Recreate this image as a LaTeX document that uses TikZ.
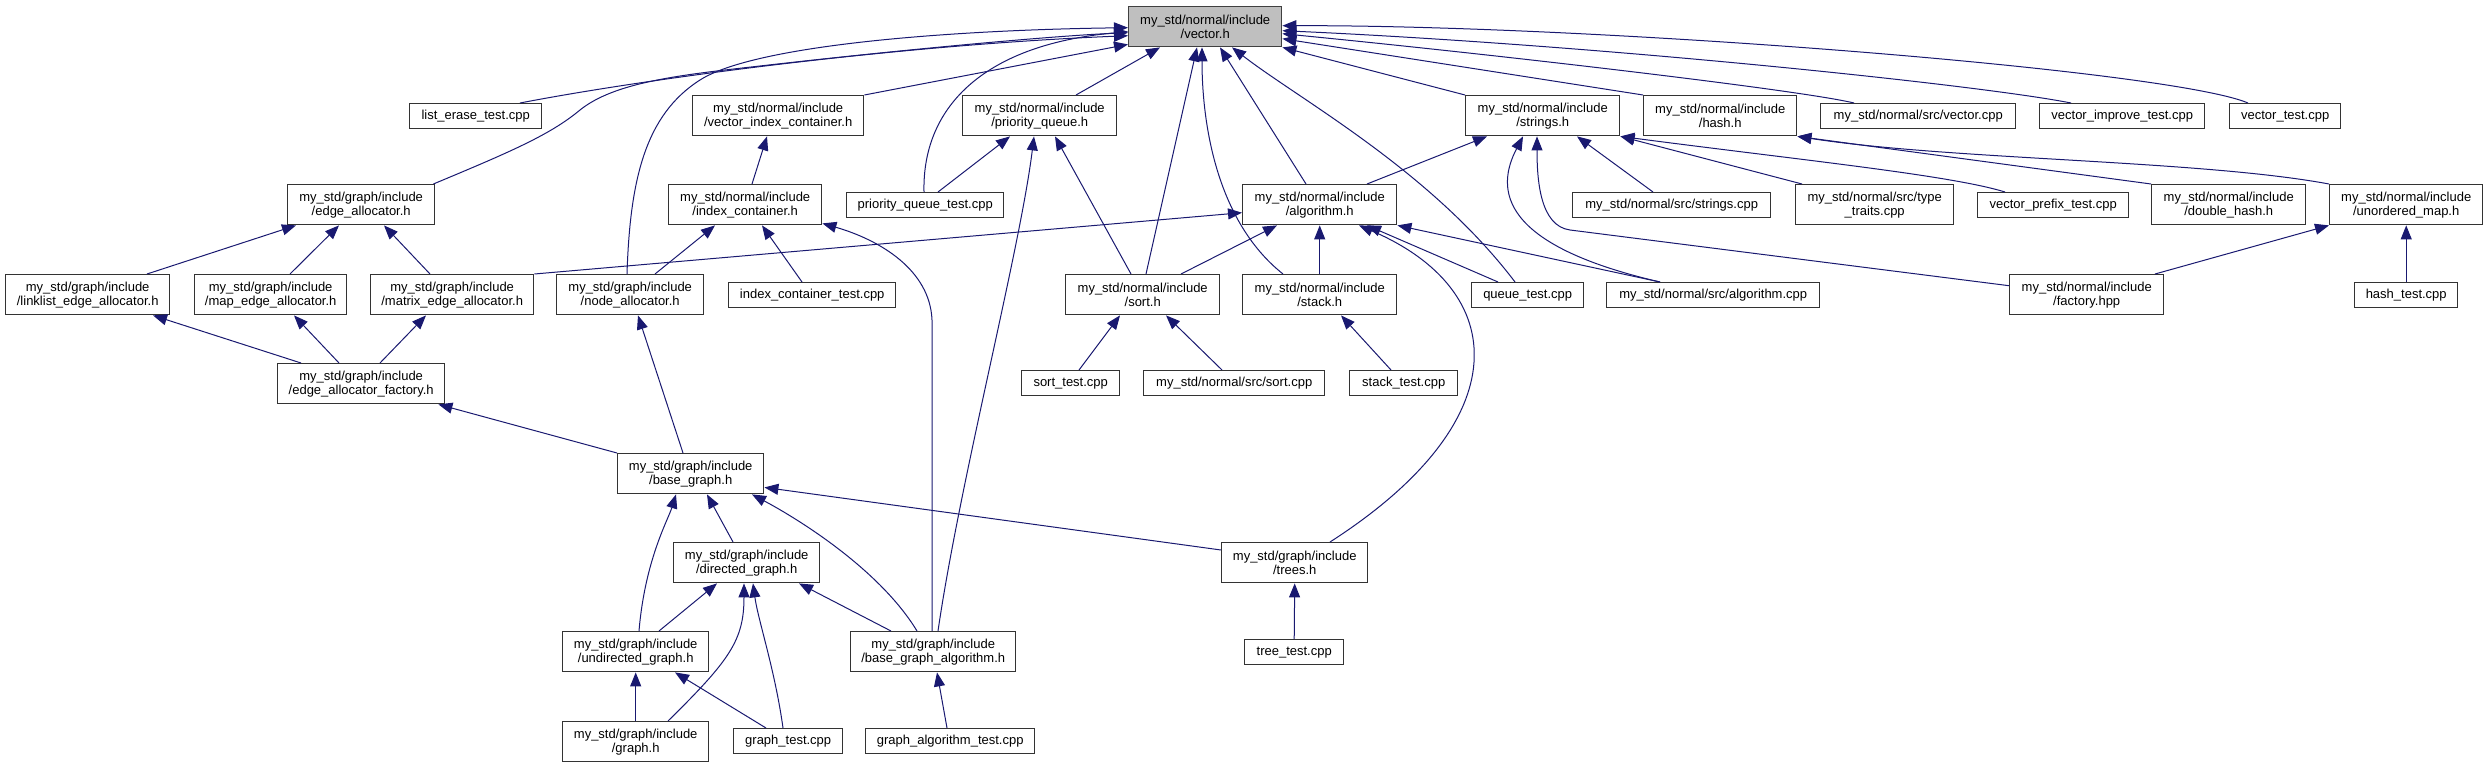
\documentclass[tikz,border=0pt]{standalone}
\usepackage{fontspec}
\setmainfont{Liberation Sans}
\usetikzlibrary{arrows.meta}
\definecolor{edgec}{HTML}{191970}
\definecolor{vecfill}{HTML}{BFBFBF}
\definecolor{boxline}{HTML}{333333}
\begin{document}
\begin{tikzpicture}[x=1pt,y=-1pt,
  box/.style={draw=boxline, line width=1.4pt, inner sep=0pt, align=center, anchor=north west,
    font=\fontsize{13}{14}\selectfont},
  ed/.style={draw=edgec, line width=1pt, -{Triangle[length=14pt,width=11pt]}}]
\useasboundingbox (0,0) rectangle (2488,767);
% nodes
\node[box, fill=vecfill, draw=black!75, minimum width=153pt, minimum height=40pt] (vec) at (1128,6) {my\_std/normal/include\\/vector.h};
\node[box, minimum width=132pt, minimum height=25pt] (let) at (409,103) {list\_erase\_test.cpp};
\node[box, minimum width=171pt, minimum height=40pt] (vic) at (692,95) {my\_std/normal/include\\/vector\_index\_container.h};
\node[box, minimum width=154pt, minimum height=40pt] (pq) at (962,95) {my\_std/normal/include\\/priority\_queue.h};
\node[box, minimum width=154pt, minimum height=40pt] (str) at (1465,95) {my\_std/normal/include\\/strings.h};
\node[box, minimum width=153pt, minimum height=40pt] (hash) at (1643,95) {my\_std/normal/include\\/hash.h};
\node[box, minimum width=195pt, minimum height=25pt] (vcpp) at (1820,103) {my\_std/normal/src/vector.cpp};
\node[box, minimum width=165pt, minimum height=25pt] (vimp) at (2039,103) {vector\_improve\_test.cpp};
\node[box, minimum width=111pt, minimum height=25pt] (vtest) at (2229,103) {vector\_test.cpp};
\node[box, minimum width=147pt, minimum height=40pt] (ea) at (287,184) {my\_std/graph/include\\/edge\_allocator.h};
\node[box, minimum width=153pt, minimum height=40pt] (ic) at (668,184) {my\_std/normal/include\\/index\_container.h};
\node[box, minimum width=157pt, minimum height=25pt] (pqt) at (846,192) {priority\_queue\_test.cpp};
\node[box, minimum width=154pt, minimum height=40pt] (alg) at (1242,184) {my\_std/normal/include\\/algorithm.h};
\node[box, minimum width=198pt, minimum height=25pt] (scpp) at (1572,192) {my\_std/normal/src/strings.cpp};
\node[box, minimum width=158pt, minimum height=40pt] (tt) at (1795,184) {my\_std/normal/src/type\\\_traits.cpp};
\node[box, minimum width=151pt, minimum height=25pt] (vpt) at (1977,192) {vector\_prefix\_test.cpp};
\node[box, minimum width=154pt, minimum height=40pt] (dh) at (2151,184) {my\_std/normal/include\\/double\_hash.h};
\node[box, minimum width=153pt, minimum height=40pt] (um) at (2329,184) {my\_std/normal/include\\/unordered\_map.h};
\node[box, minimum width=164pt, minimum height=40pt] (lea) at (5,274) {my\_std/graph/include\\/linklist\_edge\_allocator.h};
\node[box, minimum width=152pt, minimum height=40pt] (mea) at (194,274) {my\_std/graph/include\\/map\_edge\_allocator.h};
\node[box, minimum width=163pt, minimum height=40pt] (xea) at (370,274) {my\_std/graph/include\\/matrix\_edge\_allocator.h};
\node[box, minimum width=147pt, minimum height=40pt] (na) at (556,274) {my\_std/graph/include\\/node\_allocator.h};
\node[box, minimum width=167pt, minimum height=25pt] (ict) at (728,282) {index\_container\_test.cpp};
\node[box, minimum width=154pt, minimum height=40pt] (sorth) at (1065,274) {my\_std/normal/include\\/sort.h};
\node[box, minimum width=154pt, minimum height=40pt] (stackh) at (1242,274) {my\_std/normal/include\\/stack.h};
\node[box, minimum width=112pt, minimum height=25pt] (qt) at (1471,282) {queue\_test.cpp};
\node[box, minimum width=213pt, minimum height=25pt] (acpp) at (1606,282) {my\_std/normal/src/algorithm.cpp};
\node[box, minimum width=154pt, minimum height=40pt] (fac) at (2009,274) {my\_std/normal/include\\/factory.hpp};
\node[box, minimum width=103pt, minimum height=25pt] (ht) at (2354,282) {hash\_test.cpp};
\node[box, minimum width=167pt, minimum height=40pt] (eaf) at (277,363) {my\_std/graph/include\\/edge\_allocator\_factory.h};
\node[box, minimum width=98pt, minimum height=25pt] (st) at (1021,370) {sort\_test.cpp};
\node[box, minimum width=181pt, minimum height=25pt] (sortcpp) at (1143,370) {my\_std/normal/src/sort.cpp};
\node[box, minimum width=108pt, minimum height=25pt] (stt) at (1349,370) {stack\_test.cpp};
\node[box, minimum width=146pt, minimum height=40pt] (bg) at (617,453) {my\_std/graph/include\\/base\_graph.h};
\node[box, minimum width=146pt, minimum height=40pt] (dg) at (673,542) {my\_std/graph/include\\/directed\_graph.h};
\node[box, minimum width=146pt, minimum height=40pt] (trees) at (1221,542) {my\_std/graph/include\\/trees.h};
\node[box, minimum width=146pt, minimum height=40pt] (ug) at (562,631) {my\_std/graph/include\\/undirected\_graph.h};
\node[box, minimum width=165pt, minimum height=40pt] (bga) at (850,631) {my\_std/graph/include\\/base\_graph\_algorithm.h};
\node[box, minimum width=99pt, minimum height=25pt] (ttc) at (1244,639) {tree\_test.cpp};
\node[box, minimum width=146pt, minimum height=40pt] (gh) at (562,721) {my\_std/graph/include\\/graph.h};
\node[box, minimum width=109pt, minimum height=25pt] (gt) at (733,728) {graph\_test.cpp};
\node[box, minimum width=169pt, minimum height=25pt] (gat) at (865,728) {graph\_algorithm\_test.cpp};
% edges to vector.h
\draw[ed] (vic.north east) -- ([yshift=3pt]vec.south west);
\draw[ed] ([xshift=114pt]pq.north west) -- ([xshift=32pt]vec.south west);
\draw[ed] ([xshift=81pt]sorth.north west) -- ([xshift=69pt]vec.south west);
\draw[ed] ([xshift=41pt]stackh.north west) .. controls (1215,220) and (1202,120) .. ([xshift=74pt]vec.south west);
\draw[ed] ([xshift=64pt]alg.north west) -- ([xshift=92pt]vec.south west);
\draw[ed] ([xshift=44pt]qt.north west) .. controls (1430,170) and (1300,100) .. ([xshift=104pt]vec.south west);
\draw[ed] (str.north west) -- (vec.south east);
\draw[ed] (hash.north west) -- ([yshift=-12pt]vec.east);
\draw[ed] ([xshift=34pt]vcpp.north west) .. controls (1800,90) and (1500,55) .. ([yshift=-7pt]vec.east);
\draw[ed] ([xshift=32pt]vimp.north west) .. controls (1980,85) and (1600,45) .. ([yshift=-4pt]vec.east);
\draw[ed] ([xshift=19pt]vtest.north west) .. controls (2170,70) and (1600,25) .. ([yshift=1pt]vec.east);
\draw[ed] ([xshift=111pt]let.north west) .. controls (650,78) and (900,45) .. ([yshift=-9pt]vec.west);
\draw[ed] ([xshift=-2pt]ea.north east) .. controls (510,152) and (550,135) .. (580,110)
   .. controls (615,82) and (680,75) .. (760,66) .. controls (900,50) and (1050,36) .. ([yshift=-6pt]vec.west);
\draw[ed] ([xshift=71pt]na.north west) .. controls (630,180) and (645,115) .. (700,80)
   .. controls (755,45) and (950,30) .. ([yshift=-1pt]vec.west);
\draw[ed] ([xshift=78pt]pqt.north west) .. controls (922,110) and (980,45) .. ([yshift=-5pt]vec.west);
% other edges
\draw[ed] ([xshift=84pt]ic.north west) -- ([xshift=75pt]vic.south west);
\draw[ed] ([xshift=142pt]lea.north west) -- ([xshift=9pt]ea.south west);
\draw[ed] ([xshift=96pt]mea.north west) -- ([xshift=52pt]ea.south west);
\draw[ed] ([xshift=60pt]xea.north west) -- ([xshift=97pt]ea.south west);
\draw[ed] ([xshift=24pt]eaf.north west) -- ([xshift=148pt]lea.south west);
\draw[ed] ([xshift=62pt]eaf.north west) -- ([xshift=100pt]mea.south west);
\draw[ed] ([xshift=103pt]eaf.north west) -- ([xshift=56pt]xea.south west);
\draw[ed] ([xshift=99pt]na.north west) -- ([xshift=47pt]ic.south west);
\draw[ed] ([xshift=74pt]ict.north west) -- ([xshift=94pt]ic.south west);
\draw[ed] ([xshift=82pt]bga.north west) -- (932,320) .. controls (930,270) and (880,240) .. ([yshift=2pt]ic.south east);
\draw[ed] (bg.north west) -- ([xshift=-7pt]eaf.south east);
\draw[ed] ([xshift=66pt]bg.north west) -- ([xshift=82pt]na.south west);
\draw[ed] ([xshift=77pt]ug.north west) .. controls (645,560) and (668,520) .. ([xshift=59pt]bg.south west);
\draw[ed] ([xshift=60pt]dg.north west) -- ([xshift=90pt]bg.south west);
\draw[ed] ([xshift=67pt]bga.north west) .. controls (880,570) and (800,520) .. ([xshift=135pt]bg.south west);
\draw[ed] ([yshift=-8pt]trees.north west) -- ([yshift=7pt]bg.south east);
\draw[ed] ([xshift=97pt]ug.north west) -- ([xshift=44pt]dg.south west);
\draw[ed] ([xshift=106pt]gh.north west) .. controls (730,660) and (744,640) .. ([xshift=71pt]dg.south west);
\draw[ed] ([xshift=50pt]gt.north west) .. controls (775,670) and (758,620) .. ([xshift=80pt]dg.south west);
\draw[ed] ([xshift=41pt]bga.north west) -- ([xshift=126pt]dg.south west);
\draw[ed] (gh.north) -- (ug.south);
\draw[ed] ([xshift=33pt]gt.north west) -- ([xshift=113pt]ug.south west);
\draw[ed] ([xshift=82pt]gat.north west) -- ([xshift=87pt]bga.south west);
\draw[ed] (ttc.north) -- (trees.south);
\draw[ed] ([xshift=88pt]bga.north west) .. controls (960,480) and (1020,250) .. ([xshift=72pt]pq.south west);
\draw[ed] ([xshift=92pt]pqt.north west) -- ([xshift=48pt]pq.south west);
\draw[ed] ([xshift=66pt]sorth.north west) -- ([xshift=93pt]pq.south west);
\draw[ed] (xea.north east) -- ([yshift=-8pt]alg.west);
\draw[ed] ([xshift=116pt]sorth.north west) -- ([xshift=35pt]alg.south west);
\draw[ed] (stackh.north) -- (alg.south);
\draw[ed] ([xshift=109pt]trees.north west) .. controls (1520,420) and (1510,290) .. ([xshift=117pt]alg.south west);
\draw[ed] ([xshift=27pt]qt.north west) -- ([xshift=125pt]alg.south west);
\draw[ed] ([xshift=54pt]acpp.north west) -- (alg.south east);
\draw[ed] ([xshift=125pt]alg.north west) -- ([xshift=22pt]str.south west);
\draw[ed] ([xshift=54pt]acpp.north west) .. controls (1500,245) and (1495,190) .. ([xshift=58pt]str.south west);
\draw[ed] ([yshift=9pt]fac.west) -- (1570,230) .. controls (1540,226) and (1537,180) .. ([xshift=72pt]str.south west);
\draw[ed] ([xshift=81pt]scpp.north west) -- ([xshift=112pt]str.south west);
\draw[ed] ([xshift=7pt]tt.north west) -- (str.south east);
\draw[ed] ([xshift=28pt]vpt.north west) .. controls (1950,175) and (1800,160) .. (str.south east);
\draw[ed] (dh.north west) -- (hash.south east);
\draw[ed] (um.north west) .. controls (2200,160) and (1950,160) .. (hash.south east);
\draw[ed] ([xshift=146pt]fac.north west) -- (um.south west);
\draw[ed] (ht.north) -- (um.south);
\draw[ed] ([xshift=58pt]st.north west) -- ([xshift=55pt]sorth.south west);
\draw[ed] ([xshift=79pt]sortcpp.north west) -- ([xshift=101pt]sorth.south west);
\draw[ed] ([xshift=42pt]stt.north west) -- ([xshift=99pt]stackh.south west);
\end{tikzpicture}
\end{document}
